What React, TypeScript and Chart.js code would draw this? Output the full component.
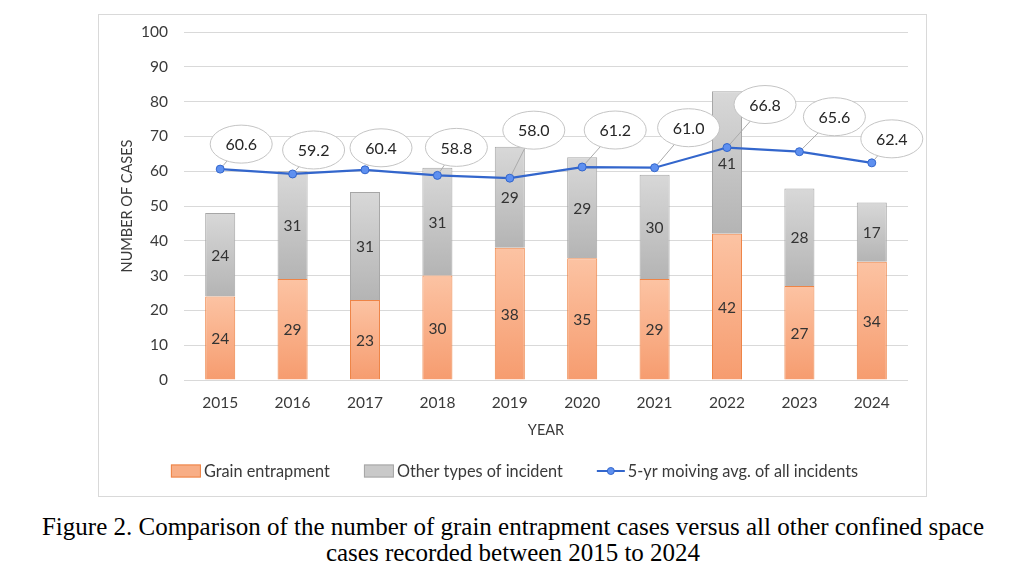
import React, { useEffect, useRef } from "react";
import { Chart, registerables } from "chart.js";

Chart.register(...registerables);

// ---- Data ----
const YEARS = ["2015", "2016", "2017", "2018", "2019", "2020", "2021", "2022", "2023", "2024"];
const GRAIN_ENTRAPMENT = [24, 29, 23, 30, 38, 35, 29, 42, 27, 34];
const OTHER_INCIDENTS = [24, 31, 31, 31, 29, 29, 30, 41, 28, 17];
const MOVING_AVG = [60.6, 59.2, 60.4, 58.8, 58.0, 61.2, 61.0, 66.8, 65.6, 62.4];
const SERIES_NAMES = ["Grain entrapment", "Other types of incident", "5-yr moiving avg. of all incidents"];
const Y_MIN = 0;
const Y_MAX = 100;
const Y_STEP = 10;
const X_TITLE = "YEAR";
const Y_TITLE = "NUMBER OF CASES";
const CAPTION_LINES = [
  "Figure 2. Comparison of the number of grain entrapment cases versus all other confined space",
  "cases recorded between 2015 to 2024",
];

// ---- Layout / style (not data) ----
const CALLOUT_OFFSETS: [number, number][] = [
  [21, -25], [21, -24], [16, -22], [19, -28], [24, -48],
  [33, -37], [34, -40], [38, -43], [35, -35], [20, -24],
];
const FONT = "Lato, 'Open Sans', sans-serif";
const TEXT_COLOR = "#3A3A3A";
const ORANGE_TOP = "#FCC3A3";
const ORANGE_BOTTOM = "#F69C6F";
const ORANGE_BORDER = "#EE8446";
const GREY_TOP = "#D8D8D8";
const GREY_BOTTOM = "#B4B4B4";
const GREY_BORDER = "#A6A6A6";
const LINE_COLOR = "#3366CC";
const POINT_FILL = "#5E90F0";

function barGradient(top: string, bottom: string, lower: number[] | null, vals: number[]) {
  return (ctx: any) => {
    const chart = ctx.chart;
    const ys = chart.scales && chart.scales.y;
    if (ctx.type !== "data" || !ys || !chart.chartArea) return bottom;
    const i = ctx.dataIndex;
    const base = lower ? lower[i] : 0;
    const y0 = ys.getPixelForValue(base + vals[i]);
    const y1 = ys.getPixelForValue(base);
    if (!isFinite(y0) || !isFinite(y1) || Math.abs(y1 - y0) < 1) return bottom;
    const g = chart.ctx.createLinearGradient(0, y0, 0, y1);
    g.addColorStop(0, top);
    g.addColorStop(1, bottom);
    return g;
  };
}

const labelsPlugin = {
  id: "labelsAndCallouts",
  afterDatasetsDraw(chart: any) {
    const ctx = chart.ctx;
    ctx.save();
    ctx.font = `15.5px ${FONT}`;
    ctx.fillStyle = "#333333";
    ctx.textAlign = "center";
    ctx.textBaseline = "middle";
    [0, 1].forEach((di) => {
      const meta = chart.getDatasetMeta(di);
      const vals = chart.data.datasets[di].data as number[];
      meta.data.forEach((el: any, i: number) => {
        const { x, y, base } = el.getProps(["x", "y", "base"], true);
        ctx.fillText(String(vals[i]), x, (y + base) / 2 + 1);
      });
    });
    const lineMeta = chart.getDatasetMeta(2);
    const lineVals = chart.data.datasets[2].data as number[];
    lineMeta.data.forEach((pt: any, i: number) => {
      const { x, y } = pt.getProps(["x", "y"], true);
      const [dx, dy] = CALLOUT_OFFSETS[i];
      const cx = x + dx;
      const cy = y + dy;
      const len = Math.hypot(dx, dy);
      const sx = x + (dx / len) * 4.5;
      const sy = y + (dy / len) * 4.5;
      ctx.strokeStyle = "#ABABAB";
      ctx.lineWidth = 1;
      ctx.beginPath();
      ctx.moveTo(sx, sy);
      ctx.lineTo(cx, cy);
      ctx.stroke();
      ctx.beginPath();
      ctx.ellipse(cx, cy, 31, 19, 0, 0, Math.PI * 2);
      ctx.fillStyle = "#FFFFFF";
      ctx.fill();
      ctx.strokeStyle = "#C4C4C4";
      ctx.stroke();
      ctx.fillStyle = "#262626";
      ctx.font = `16px ${FONT}`;
      ctx.fillText(lineVals[i].toFixed(1), cx, cy + 1);
    });
    ctx.restore();
  },
};

const legendPlugin = {
  id: "customLegend",
  afterDraw(chart: any) {
    const ctx = chart.ctx;
    ctx.save();
    ctx.font = `16.3px ${FONT}`;
    ctx.textBaseline = "middle";
    ctx.textAlign = "left";
    const symW = [30, 30, 28];
    const gapTxt = 3;
    const itemGap = 34;
    const textW = SERIES_NAMES.map((t) => ctx.measureText(t).width);
    let total = 0;
    SERIES_NAMES.forEach((_, i) => {
      total += symW[i] + gapTxt + textW[i];
    });
    total += itemGap * (SERIES_NAMES.length - 1);
    let x = chart.width / 2 - total / 2 + 2;
    const y = chart.height - 25;
    SERIES_NAMES.forEach((name, i) => {
      if (i < 2) {
        ctx.fillStyle = i === 0 ? "#F8AE86" : "#C9C9C9";
        ctx.strokeStyle = i === 0 ? ORANGE_BORDER : GREY_BORDER;
        ctx.lineWidth = 1;
        ctx.fillRect(x, y - 6.5, symW[i], 13);
        ctx.strokeRect(x + 0.5, y - 6, symW[i] - 1, 12);
      } else {
        ctx.strokeStyle = LINE_COLOR;
        ctx.lineWidth = 2;
        ctx.beginPath();
        ctx.moveTo(x, y);
        ctx.lineTo(x + symW[i], y);
        ctx.stroke();
        ctx.beginPath();
        ctx.arc(x + symW[i] / 2, y, 3.5, 0, Math.PI * 2);
        ctx.fillStyle = POINT_FILL;
        ctx.fill();
        ctx.lineWidth = 1;
        ctx.stroke();
      }
      x += symW[i] + gapTxt;
      ctx.fillStyle = TEXT_COLOR;
      ctx.fillText(name, x, y + 1);
      x += textW[i] + itemGap;
    });
    ctx.restore();
  },
};

export default function App() {
  const canvasRef = useRef<HTMLCanvasElement | null>(null);

  useEffect(() => {
    const canvas = canvasRef.current;
    if (!canvas) return;
    const chart = new Chart(canvas, {
      type: "bar",
      data: {
        labels: YEARS,
        datasets: [
          {
            type: "bar",
            label: SERIES_NAMES[0],
            data: GRAIN_ENTRAPMENT,
            backgroundColor: barGradient(ORANGE_TOP, ORANGE_BOTTOM, null, GRAIN_ENTRAPMENT),
            borderColor: ORANGE_BORDER,
            borderWidth: 1,
            categoryPercentage: 1,
            barPercentage: 0.415,
            order: 2,
          },
          {
            type: "bar",
            label: SERIES_NAMES[1],
            data: OTHER_INCIDENTS,
            backgroundColor: barGradient(GREY_TOP, GREY_BOTTOM, GRAIN_ENTRAPMENT, OTHER_INCIDENTS),
            borderColor: GREY_BORDER,
            borderWidth: 1,
            categoryPercentage: 1,
            barPercentage: 0.415,
            order: 2,
          },
          {
            type: "line",
            label: SERIES_NAMES[2],
            data: MOVING_AVG,
            borderColor: LINE_COLOR,
            borderWidth: 2.25,
            pointRadius: 4,
            pointBackgroundColor: POINT_FILL,
            pointBorderColor: LINE_COLOR,
            pointBorderWidth: 1,
            tension: 0,
            stack: "avg",
            order: 0,
          } as any,
        ],
      },
      options: {
        responsive: false,
        animation: false,
        events: [],
        layout: { padding: { top: 17, right: 18, bottom: 56, left: 0 } },
        plugins: {
          legend: { display: false },
          tooltip: { enabled: false },
          title: { display: false },
        },
        scales: {
          x: {
            stacked: true,
            offset: true,
            grid: { display: false, drawTicks: false },
            border: { display: false },
            ticks: { color: TEXT_COLOR, font: { family: FONT, size: 15.5 }, padding: 14, maxRotation: 0 },
            title: {
              display: true,
              text: X_TITLE,
              color: TEXT_COLOR,
              font: { family: FONT, size: 14.5 },
              padding: { top: 0, bottom: 1 },
            },
            afterFit: (scale: any) => {
              scale.height = 60;
              scale.paddingLeft = 0;
              scale.paddingRight = 0;
            },
          },
          y: {
            stacked: true,
            min: Y_MIN,
            max: Y_MAX,
            grid: { color: "#D9D9D9", drawTicks: false, lineWidth: 1 },
            border: { display: false },
            ticks: {
              stepSize: Y_STEP,
              color: TEXT_COLOR,
              font: { family: FONT, size: 15.5 },
              padding: 16,
            },
            title: {
              display: true,
              text: Y_TITLE,
              color: TEXT_COLOR,
              font: { family: FONT, size: 14.5 },
              padding: { top: 20, bottom: 0 },
            },
            afterFit: (scale: any) => {
              scale.width = 85;
              scale.paddingTop = 0;
              scale.paddingBottom = 0;
            },
          },
        },
      } as any,
      plugins: [labelsPlugin, legendPlugin],
    });
    return () => chart.destroy();
  }, []);

  return (
    <div style={{ position: "absolute", left: 0, top: 0, width: 1026, height: 588, background: "#FFFFFF" }}>
      <div
        style={{
          position: "absolute",
          left: 98,
          top: 14,
          width: 827,
          height: 481,
          border: "1px solid #D9D9D9",
        }}
      >
        <canvas ref={canvasRef} width={827} height={481} style={{ display: "block" }} />
      </div>
      <div
        style={{
          position: "absolute",
          left: 0,
          top: 514,
          width: 1026,
          textAlign: "center",
          fontFamily: "'Liberation Serif', 'Times New Roman', serif",
          fontSize: 25,
          lineHeight: "26px",
          color: "#000000",
          whiteSpace: "nowrap",
        }}
      >
        {CAPTION_LINES.map((l, i) => (
          <div key={i}>{l}</div>
        ))}
      </div>
    </div>
  );
}
